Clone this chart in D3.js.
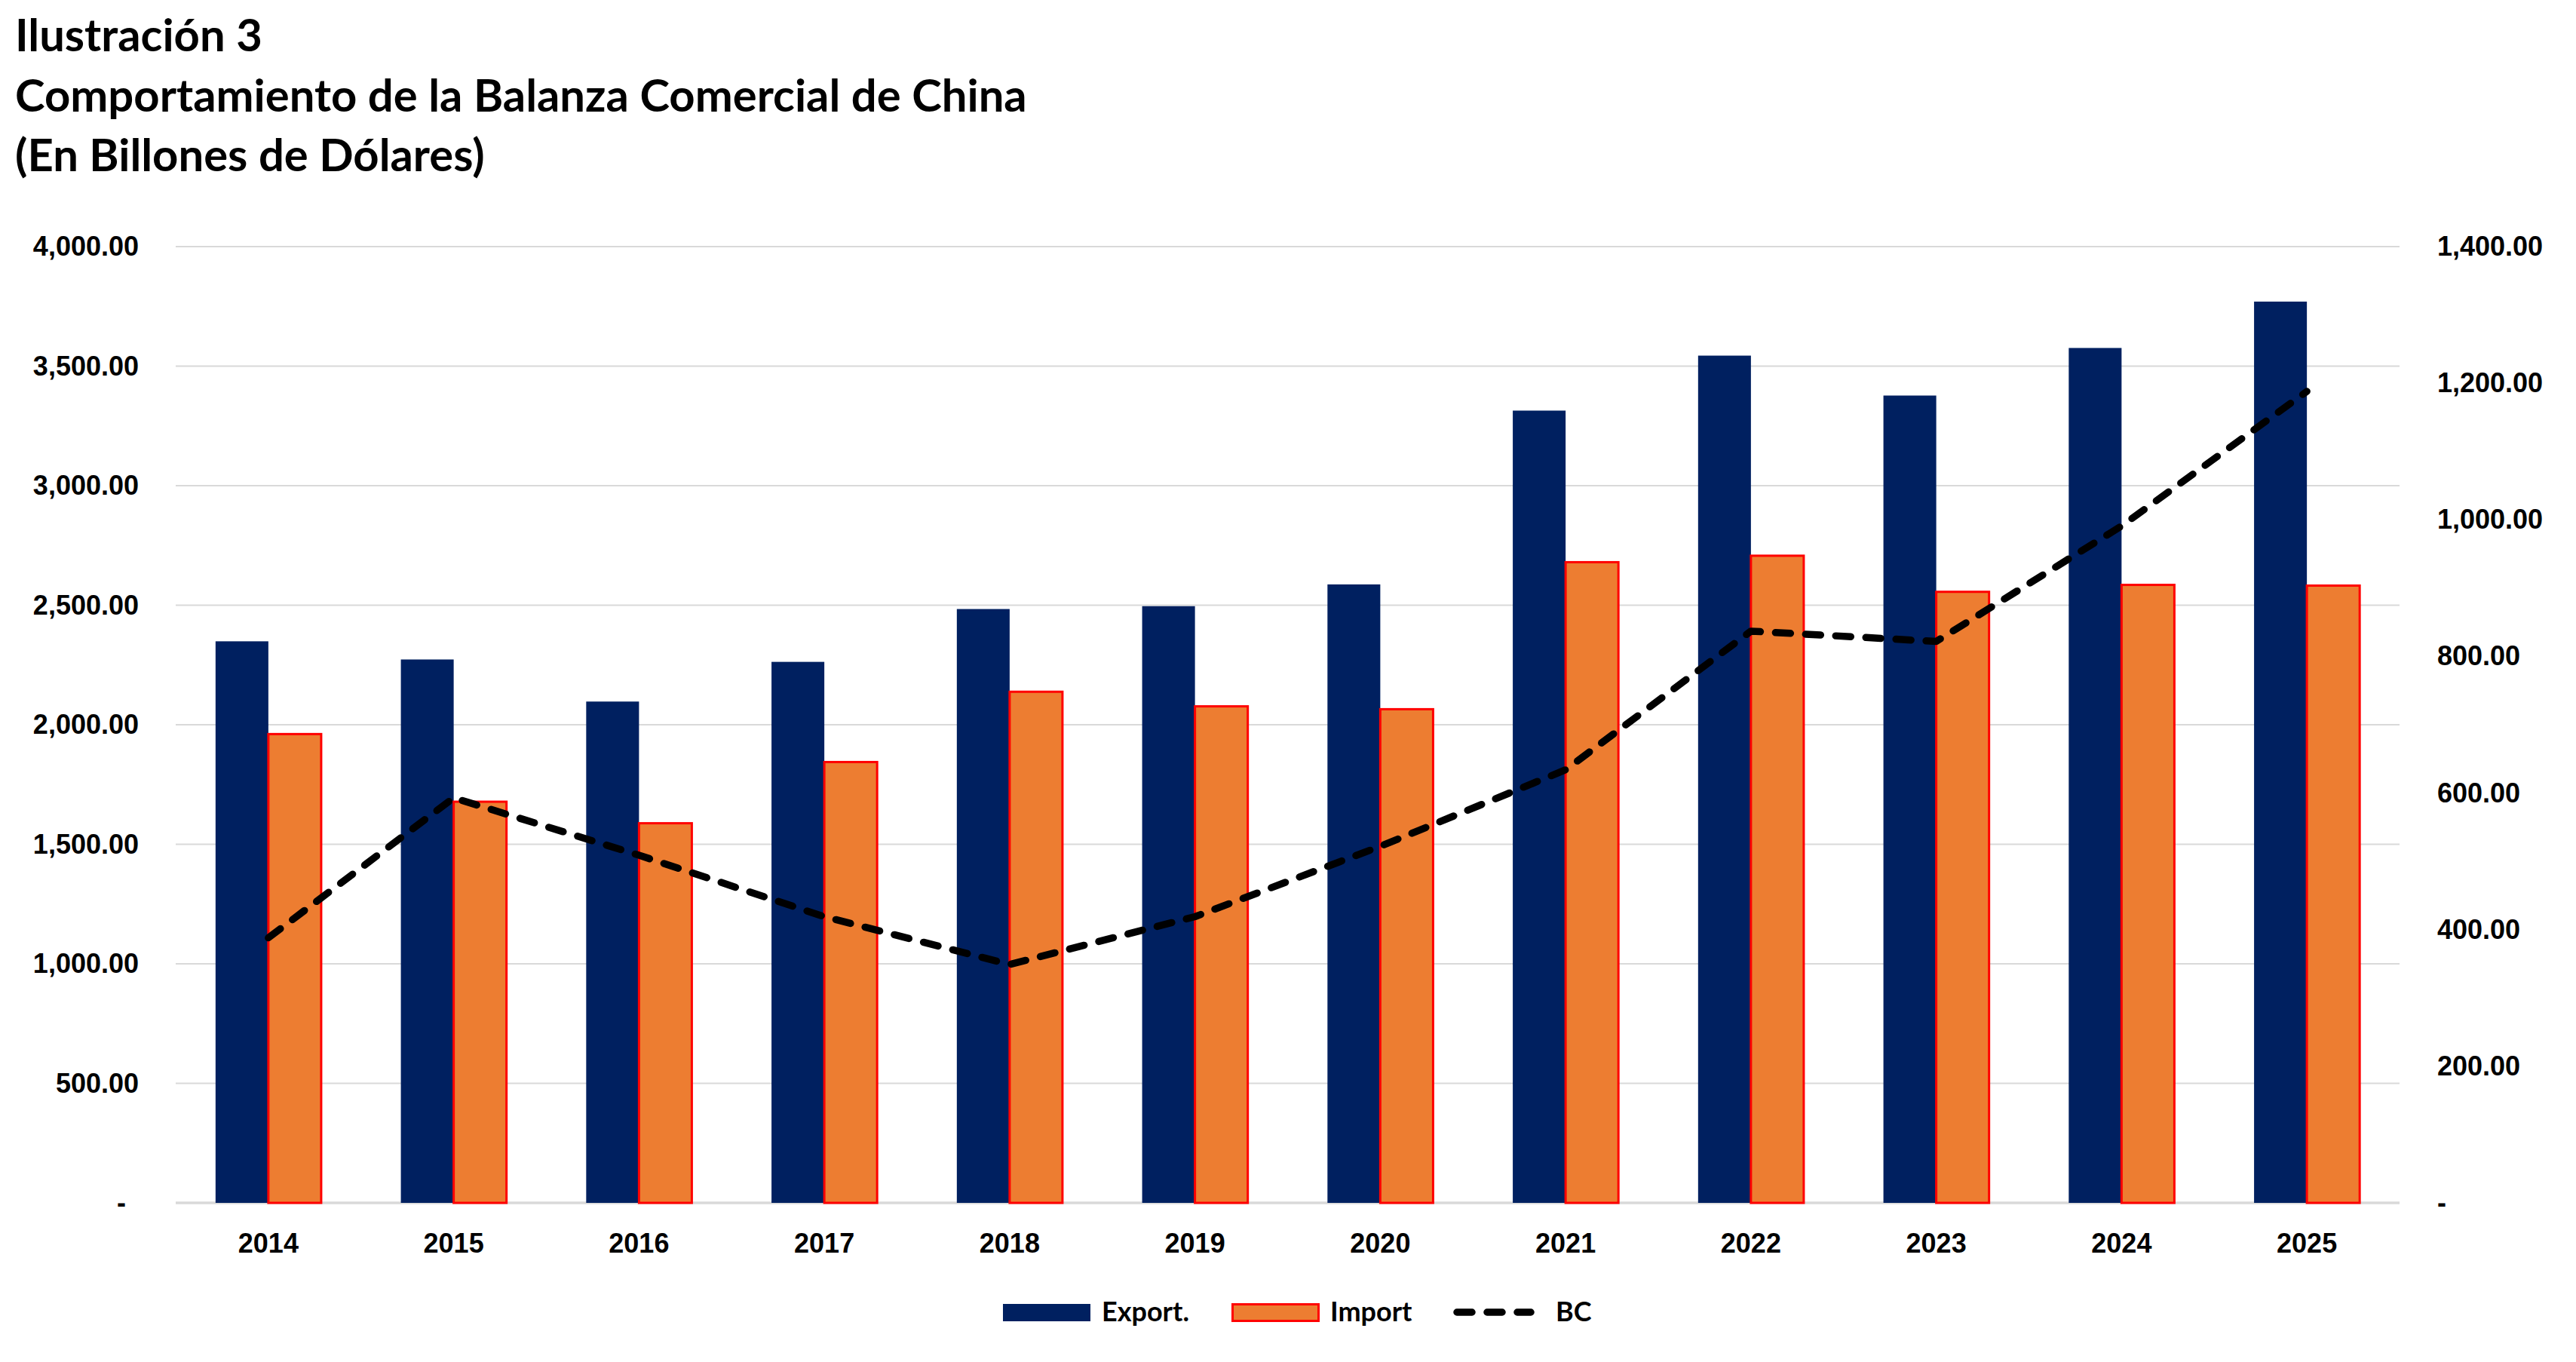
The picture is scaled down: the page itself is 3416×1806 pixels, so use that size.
<!DOCTYPE html>
<html>
<head>
<meta charset="utf-8">
<script src="https://cdn.jsdelivr.net/npm/d3@7"></script>
<style>
  body { margin: 0; background: #fff; }
  svg { display: block; font-family: "Lato", "Open Sans", sans-serif; font-weight: 700; }
</style>
</head>
<body>
<div id="chart"></div>
<script>
// data (billions of dollars)
var years = ["2014", "2015", "2016", "2017", "2018", "2019", "2020", "2021", "2022", "2023", "2024", "2025"];
var exportVals = [2349, 2273, 2097, 2263, 2484, 2496, 2587, 3314, 3544, 3377, 3576, 3770];
var importVals = [1961, 1678, 1588, 1844, 2138, 2077, 2065, 2680, 2707, 2556, 2585, 2582];
var balanceVals = [388, 593, 509, 419, 349, 419, 522, 634, 837, 822, 991, 1188];
var leftTicks = [0, 500, 1000, 1500, 2000, 2500, 3000, 3500, 4000];
var rightTicks = [0, 200, 400, 600, 800, 1000, 1200, 1400];
var titleLines = ["Ilustración 3", "Comportamiento de la Balanza Comercial de China", "(En Billones de Dólares)"];
var seriesNames = ["Export.", "Import", "BC"];

var width = 3416;
var height = 1806;
var margin = {top: 327, right: 234, bottom: 211, left: 233};

var exportColor = "#002060";
var importColor = "#ED7D31";
var importStroke = "#FF0000";
var gridColor = "#D9D9D9";

var svg = d3.select("#chart")
  .append("svg")
  .attr("width", width)
  .attr("height", height)
  .attr("viewBox", [0, 0, width, height]);

svg.append("rect").attr("width", width).attr("height", height).attr("fill", "#fff");

// title
var title = svg.append("g").attr("class", "title");
titleLines.forEach(function (t, i) {
  title.append("text")
    .attr("x", 20)
    .attr("y", 68 + i * 79.5)
    .attr("font-size", 56)
    .attr("fill", "#000")
    .text(t);
});
// fit title size to the width of the long line
var longLine = title.selectAll("text").nodes()[1];
var fitSize = 56 * 1342 / longLine.getComputedTextLength();
title.selectAll("text").attr("font-size", fitSize);

var x = d3.scaleBand()
  .domain(years)
  .range([margin.left, width - margin.right])
  .paddingInner(0.43)
  .paddingOuter(0.215);

var xSub = d3.scaleBand()
  .domain(["exp", "imp"])
  .range([0, x.bandwidth()]);

var y = d3.scaleLinear()
  .domain([0, 4000])
  .range([height - margin.bottom, margin.top]);

var y2 = d3.scaleLinear()
  .domain([0, 1400])
  .range([height - margin.bottom, margin.top]);

var fmt = d3.format(",.2f");
var tickFmt = function (d) { return d === 0 ? "-" : fmt(d); };

// gridlines
svg.append("g")
  .selectAll("line")
  .data(leftTicks)
  .join("line")
  .attr("x1", margin.left)
  .attr("x2", width - margin.right)
  .attr("y1", function (d) { return y(d); })
  .attr("y2", function (d) { return y(d); })
  .attr("stroke", gridColor)
  .attr("stroke-width", function (d) { return d === 0 ? 3.5 : 2; });

// left axis
var yAxis = svg.append("g")
  .attr("transform", "translate(184,0)")
  .call(d3.axisLeft(y).tickValues(leftTicks).tickFormat(tickFmt).tickSize(0).tickPadding(0))
  .call(function (g) { g.select(".domain").remove(); });
yAxis.selectAll("text")
  .attr("font-family", null)
  .attr("font-size", 36)
  .attr("fill", "#000")
  .attr("dx", function (d) { return d === 0 ? -17 : 0; });

// right axis
var y2Axis = svg.append("g")
  .attr("transform", "translate(3232,0)")
  .call(d3.axisRight(y2).tickValues(rightTicks).tickFormat(tickFmt).tickSize(0).tickPadding(0))
  .call(function (g) { g.select(".domain").remove(); });
y2Axis.selectAll("text")
  .attr("font-family", null)
  .attr("font-size", 36)
  .attr("fill", "#000");

// x axis labels
var xAxis = svg.append("g")
  .attr("transform", "translate(0," + (height - margin.bottom) + ")")
  .call(d3.axisBottom(x).tickSize(0).tickPadding(40))
  .call(function (g) { g.select(".domain").remove(); });
xAxis.selectAll("text")
  .attr("font-family", null)
  .attr("font-size", 36)
  .attr("fill", "#000");

// bars
svg.append("g")
  .selectAll("rect")
  .data(exportVals)
  .join("rect")
  .attr("x", function (d, i) { return x(years[i]) + xSub("exp"); })
  .attr("y", function (d) { return y(d); })
  .attr("width", xSub.bandwidth())
  .attr("height", function (d) { return y(0) - y(d); })
  .attr("fill", exportColor);

svg.append("g")
  .selectAll("rect")
  .data(importVals)
  .join("rect")
  .attr("x", function (d, i) { return x(years[i]) + xSub("imp"); })
  .attr("y", function (d) { return y(d); })
  .attr("width", xSub.bandwidth())
  .attr("height", function (d) { return y(0) - y(d); })
  .attr("fill", importColor)
  .attr("stroke", importStroke)
  .attr("stroke-width", 3);

// balance line
var line = d3.line()
  .x(function (d, i) { return x(years[i]) + x.bandwidth() / 2; })
  .y(function (d) { return y2(d); });

svg.append("path")
  .datum(balanceVals)
  .attr("fill", "none")
  .attr("stroke", "#000")
  .attr("stroke-width", 9.5)
  .attr("stroke-dasharray", "20 20")
  .attr("stroke-linecap", "round")
  .attr("stroke-linejoin", "round")
  .attr("d", line);

// legend
var legend = svg.append("g").attr("transform", "translate(1330,1740)");
var legendOffsets = [0, 303, 597];
seriesNames.forEach(function (name, i) {
  var item = legend.append("g").attr("transform", "translate(" + legendOffsets[i] + ",0)");
  if (i === 0) {
    item.append("rect").attr("y", -11).attr("width", 116).attr("height", 23).attr("fill", exportColor);
  } else if (i === 1) {
    item.append("rect").attr("x", 1.5).attr("y", -10.5).attr("width", 114).attr("height", 22)
      .attr("fill", importColor).attr("stroke", importStroke).attr("stroke-width", 3);
  } else {
    item.append("line").attr("x1", 5).attr("x2", 103).attr("y1", 0).attr("y2", 0)
      .attr("stroke", "#000").attr("stroke-width", 9.5)
      .attr("stroke-dasharray", "20 20").attr("stroke-linecap", "round");
  }
  item.append("text")
    .attr("x", i === 2 ? 136 : 131)
    .attr("y", 12)
    .attr("font-size", 36)
    .attr("fill", "#000")
    .text(name);
});
</script>
</body>
</html>
